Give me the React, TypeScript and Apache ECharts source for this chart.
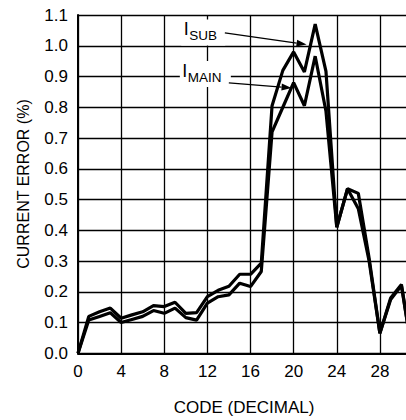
import React, { useEffect, useRef } from "react";
import * as echarts from "echarts";

const codes: number[] = Array.from({ length: 32 }, (_, i) => i);
const iSub: number[] = [
  0, 0.12, 0.135, 0.147, 0.114, 0.125, 0.135, 0.155, 0.152, 0.166, 0.13, 0.132,
  0.184, 0.205, 0.218, 0.257, 0.257, 0.293, 0.805, 0.92, 0.98, 0.915, 1.07,
  0.917, 0.41, 0.535, 0.52, 0.31, 0.065, 0.18, 0.224, 0.0,
];
const iMain: number[] = [
  0, 0.108, 0.12, 0.132, 0.1, 0.11, 0.12, 0.139, 0.13, 0.147, 0.116, 0.108,
  0.163, 0.184, 0.19, 0.228, 0.217, 0.266, 0.72, 0.8, 0.88, 0.805, 0.966,
  0.787, 0.41, 0.535, 0.47, 0.3, 0.065, 0.175, 0.22, 0.0,
];
const xTicks = { min: 0, max: 32, interval: 4 };
const yTicks = { min: 0, max: 1.1, interval: 0.1 };

// annotation anchors in data coordinates
const subLabel: [number, number] = [10.04, 1.053];
const subArrow: [number, number][] = [
  [13.62, 1.042],
  [21.2, 1.004],
];
const mainLabel: [number, number] = [9.91, 0.918];
const mainArrow: [number, number][] = [
  [13.99, 0.879],
  [19.81, 0.863],
];

const FONT = "'Liberation Sans', Arial, sans-serif";

export default function App() {
  const ref = useRef<HTMLDivElement>(null);
  useEffect(() => {
    if (!ref.current) return;
    const chart = echarts.init(ref.current, undefined, { renderer: "svg" });
    const series = (name: string, vals: number[]) => ({
      name,
      type: "line",
      data: codes.map((c, i) => [c, vals[i]]),
      symbol: "none",
      lineStyle: { color: "#000", width: 3.2 },
      z: 5,
    });
    chart.setOption({
      animation: false,
      backgroundColor: "#fff",
      grid: {
        left: 78,
        top: 15,
        width: 345,
        height: 338.3,
        outerBoundsMode: "none",
        containLabel: false,
      },
      xAxis: {
        type: "value",
        ...xTicks,
        axisLine: { show: true, lineStyle: { color: "#000", width: 2 } },
        axisTick: { show: false },
        splitLine: { show: true, lineStyle: { color: "#000", width: 1.3 } },
        axisLabel: {
          color: "#000",
          fontSize: 17,
          fontFamily: FONT,
          margin: 10,
          showMaxLabel: false,
        },
      },
      yAxis: {
        type: "value",
        ...yTicks,
        axisLine: { show: true, lineStyle: { color: "#000", width: 2 } },
        axisTick: { show: false },
        splitLine: { show: true, lineStyle: { color: "#000", width: 1.3 } },
        axisLabel: {
          color: "#000",
          fontSize: 17,
          fontFamily: FONT,
          margin: 10,
          formatter: (v: number) => v.toFixed(1),
        },
      },
      series: [series("ISUB", iSub), series("IMAIN", iMain)],
    });

    const px = (p: [number, number]) =>
      chart.convertToPixel({ gridIndex: 0 }, p) as number[];

    const arrow = (pts: [number, number][]) => {
      const a = px(pts[0]);
      const b = px(pts[1]);
      const ang = Math.atan2(b[1] - a[1], b[0] - a[0]);
      const L = 10;
      const W = 3.5;
      const bx = b[0] - L * Math.cos(ang);
      const by = b[1] - L * Math.sin(ang);
      return [
        {
          type: "line",
          z: 101,
          shape: { x1: a[0], y1: a[1], x2: bx, y2: by },
          style: { stroke: "#000", lineWidth: 1.3 },
        },
        {
          type: "polygon",
          z: 101,
          shape: {
            points: [
              [b[0], b[1]],
              [bx - W * Math.sin(ang), by + W * Math.cos(ang)],
              [bx + W * Math.sin(ang), by - W * Math.cos(ang)],
            ],
          },
          style: { fill: "#000" },
        },
      ];
    };

    const label = (p: [number, number], sub: string, subW: number) => {
      const c = px(p);
      return [
        {
          type: "rect",
          z: 100,
          shape: { x: c[0] - 5, y: c[1] - 10, width: subW + 10, height: 26 },
          style: { fill: "#fff" },
        },
        {
          type: "text",
          z: 101,
          x: c[0],
          y: c[1],
          style: {
            text: "I",
            fontSize: 18,
            fontFamily: FONT,
            fill: "#000",
            align: "center",
            verticalAlign: "middle",
          },
        },
        {
          type: "text",
          z: 101,
          x: c[0] + 3,
          y: c[1] + 6.5,
          style: {
            text: sub,
            fontSize: 13.5,
            fontFamily: FONT,
            fill: "#000",
            align: "left",
            verticalAlign: "middle",
          },
        },
      ];
    };

    chart.setOption({
      graphic: [
        ...label(subLabel, "SUB", 34),
        ...arrow(subArrow),
        ...label(mainLabel, "MAIN", 41),
        ...arrow(mainArrow),
        {
          type: "text",
          x: 23.5,
          y: 184,
          rotation: Math.PI / 2,
          style: {
            text: "CURRENT ERROR (%)",
            fontSize: 16,
            fontFamily: FONT,
            fill: "#000",
            align: "center",
            verticalAlign: "middle",
          },
        },
        {
          type: "text",
          x: 244,
          y: 407,
          style: {
            text: "CODE (DECIMAL)",
            fontSize: 17,
            fontFamily: FONT,
            fill: "#000",
            align: "center",
            verticalAlign: "middle",
          },
        },
      ],
    });
    return () => chart.dispose();
  }, []);
  return (
    <div
      ref={ref}
      style={{ position: "absolute", left: 0, top: 0, width: 406, height: 420 }}
    />
  );
}
